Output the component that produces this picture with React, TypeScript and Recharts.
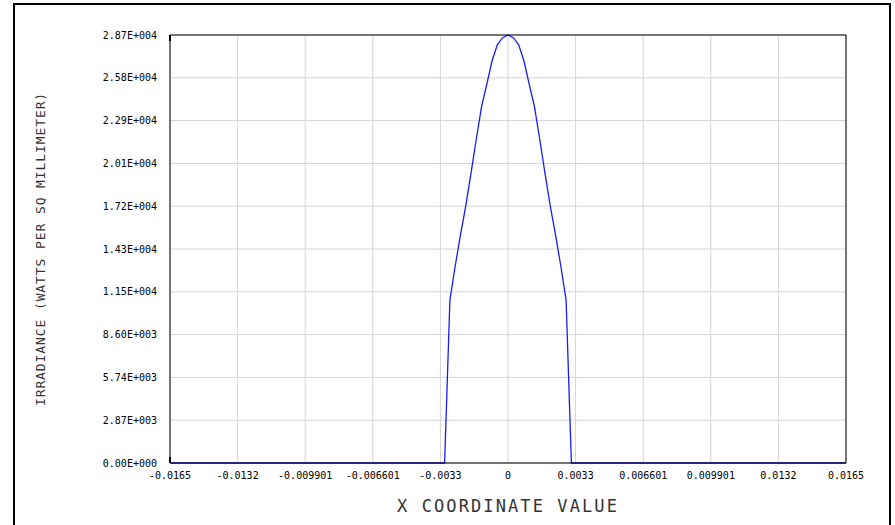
import React from 'react';
import { LineChart, Line, XAxis, YAxis, CartesianGrid } from 'recharts';

// irradiance profile, sampled along X
const xCoord = [
  -0.0165, -0.003094, -0.002836, -0.002578, -0.00232, -0.002063, -0.001805, -0.001547,
  -0.001289, -0.001031, -0.000773, -0.000516, -0.000258, 0, 0.000258, 0.000516, 0.000773,
  0.001031, 0.001289, 0.001547, 0.001805, 0.002063, 0.00232, 0.002578, 0.002836, 0.003094,
  0.0165,
];
const irradiance = [
  0, 0, 10920, 13200, 15280, 17220, 19430, 21710, 23900, 25400, 26970, 28040, 28500, 28680,
  28500, 28040, 26970, 25400, 23900, 21710, 19430, 17220, 15280, 13200, 10920, 0, 0,
];

const xTicks = [-0.0165, -0.0132, -0.009901, -0.006601, -0.0033, 0, 0.0033, 0.006601, 0.009901, 0.0132, 0.0165];
const yTicks = [0, 2868, 5736, 8604, 11472, 14340, 17208, 20076, 22944, 25812, 28680];
const yTickLabels = [
  '0.00E+000', '2.87E+003', '5.74E+003', '8.60E+003', '1.15E+004', '1.43E+004',
  '1.72E+004', '2.01E+004', '2.29E+004', '2.58E+004', '2.87E+004',
];

const MONO = '"DejaVu Sans Mono", monospace';
const tickFont = { fill: '#000', fontSize: 10, fontFamily: MONO };
const noTick = () => <g />;

const data = xCoord.map((x, i) => ({ x, v: irradiance[i] }));

export default function App() {
  return (
    <div style={{ position: 'absolute', left: 0, top: 0, width: 895, height: 525, overflow: 'hidden', background: '#fff' }}>
      <div
        style={{
          position: 'absolute',
          left: 13,
          top: 3,
          width: 878,
          height: 600,
          border: '2px solid #000',
          boxSizing: 'border-box',
        }}
      />
      <div style={{ position: 'absolute', left: 0, top: 0 }}>
        <LineChart width={895} height={525} data={data} margin={{ top: 35, right: 49, bottom: 0, left: 0 }}>
          <CartesianGrid stroke="#d4d4d4" strokeWidth={1} />
          <XAxis
            dataKey="x"
            type="number"
            domain={[-0.0165, 0.0165]}
            ticks={xTicks}
            interval={0}
            tickFormatter={(v) => String(v)}
            tick={tickFont}
            tickSize={0}
            tickMargin={9}
            tickLine={false}
            axisLine={{ stroke: '#000' }}
            height={62}
            label={{
              value: 'X COORDINATE VALUE',
              position: 'insideBottom',
              offset: 13,
              fill: '#333',
              fontSize: 17,
              fontFamily: MONO,
              letterSpacing: 2.1,
            }}
          />
          <XAxis
            xAxisId="bm"
            type="number"
            domain={[-0.0165, 0.0165]}
            ticks={xTicks}
            interval={0}
            mirror
            tick={noTick}
            tickSize={6}
            tickLine={{ stroke: '#000' }}
            axisLine={false}
          />
          <XAxis
            xAxisId="top"
            orientation="top"
            type="number"
            domain={[-0.0165, 0.0165]}
            ticks={xTicks}
            interval={0}
            mirror
            tick={noTick}
            tickSize={6}
            tickLine={{ stroke: '#000' }}
            axisLine={{ stroke: '#000' }}
          />
          <YAxis
            type="number"
            domain={[0, 28680]}
            ticks={yTicks}
            interval={0}
            tickFormatter={(v, i) => yTickLabels[i]}
            tick={tickFont}
            tickSize={0}
            tickMargin={13}
            tickLine={false}
            axisLine={{ stroke: '#000' }}
            width={170}
            label={{
              value: 'IRRADIANCE (WATTS PER SQ MILLIMETER)',
              content: ({ viewBox }: any) => {
                const cx = viewBox.x + 40;
                const cy = viewBox.y + viewBox.height / 2;
                return (
                  <text
                    x={cx}
                    y={cy}
                    transform={`rotate(-90, ${cx}, ${cy})`}
                    textAnchor="middle"
                    dominantBaseline="central"
                    fill="#333"
                    fontSize={13}
                    fontFamily={MONO}
                    letterSpacing={0.9}
                  >
                    IRRADIANCE (WATTS PER SQ MILLIMETER)
                  </text>
                );
              },
            }}
          />
          <YAxis
            yAxisId="lm"
            type="number"
            domain={[0, 28680]}
            ticks={yTicks}
            interval={0}
            mirror
            tick={noTick}
            tickSize={6}
            tickLine={{ stroke: '#000' }}
            axisLine={false}
          />
          <YAxis
            yAxisId="right"
            orientation="right"
            type="number"
            domain={[0, 28680]}
            ticks={yTicks}
            interval={0}
            mirror
            tick={noTick}
            tickSize={6}
            tickLine={{ stroke: '#000' }}
            axisLine={{ stroke: '#000' }}
          />
          <Line
            type="linear"
            dataKey="v"
            stroke="#1a1aff"
            strokeWidth={1.3}
            dot={false}
            activeDot={false}
            isAnimationActive={false}
          />
        </LineChart>
      </div>
    </div>
  );
}
